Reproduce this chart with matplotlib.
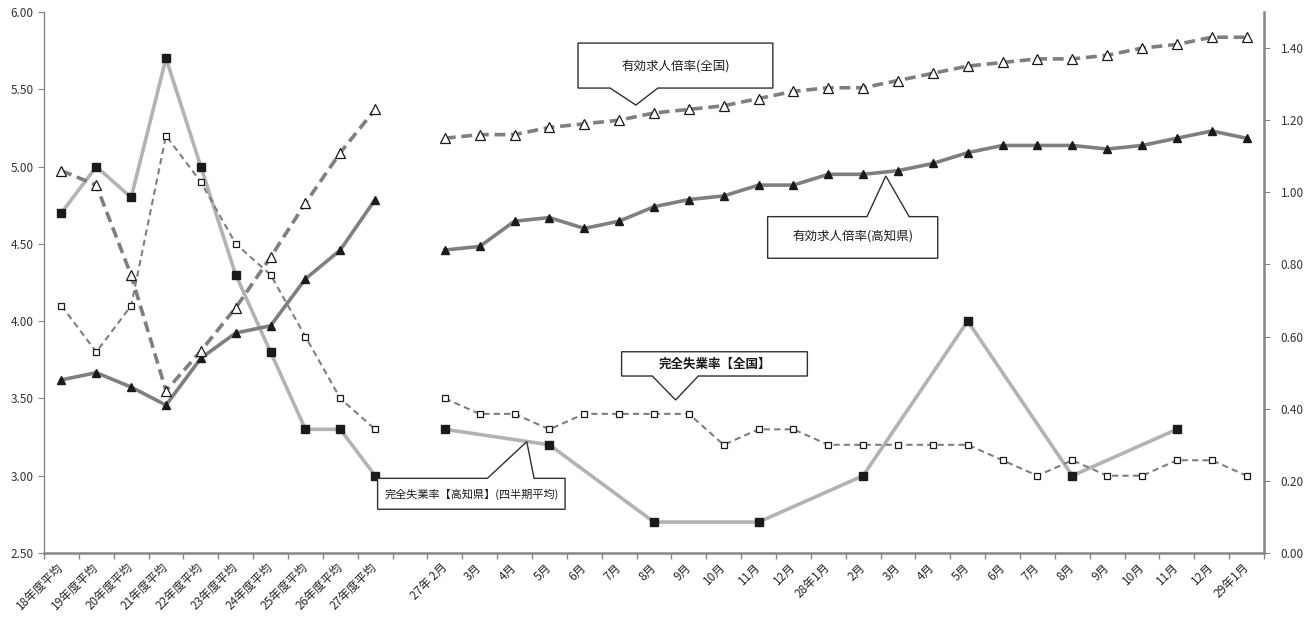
import matplotlib
matplotlib.use('Agg')
import matplotlib.pyplot as plt
from matplotlib.patches import Polygon
import numpy as np

plt.rcParams['font.family'] = ['Noto Sans CJK JP', 'DejaVu Sans']

# カテゴリ(年度平均 + 空き + 月次)
fy_labels = ['18年度平均', '19年度平均', '20年度平均', '21年度平均', '22年度平均',
             '23年度平均', '24年度平均', '25年度平均', '26年度平均', '27年度平均']
month_labels = ['27年 2月', '3月', '4月', '5月', '6月', '7月', '8月', '9月', '10月', '11月', '12月',
                '28年1月', '2月', '3月', '4月', '5月', '6月', '7月', '8月', '9月', '10月', '11月', '12月',
                '29年1月']
categories = fy_labels + [''] + month_labels

# 完全失業率(左軸)
unemp_kochi_fy = [4.7, 5.0, 4.8, 5.7, 5.0, 4.3, 3.8, 3.3, 3.3, 3.0]
unemp_zenkoku_fy = [4.1, 3.8, 4.1, 5.2, 4.9, 4.5, 4.3, 3.9, 3.5, 3.3]
# 高知県は四半期平均(2月,5月,8月,11月)
unemp_kochi_m = [3.3, None, None, 3.2, None, None, 2.7, None, None, 2.7, None, None,
                 3.0, None, None, 4.0, None, None, 3.0, None, None, 3.3, None, None]
unemp_zenkoku_m = [3.5, 3.4, 3.4, 3.3, 3.4, 3.4, 3.4, 3.4, 3.2, 3.3, 3.3, 3.2,
                   3.2, 3.2, 3.2, 3.2, 3.1, 3.0, 3.1, 3.0, 3.0, 3.1, 3.1, 3.0]

# 有効求人倍率(右軸)
jobs_kochi_fy = [0.48, 0.50, 0.46, 0.41, 0.54, 0.61, 0.63, 0.76, 0.84, 0.98]
jobs_zenkoku_fy = [1.06, 1.02, 0.77, 0.45, 0.56, 0.68, 0.82, 0.97, 1.11, 1.23]
jobs_kochi_m = [0.84, 0.85, 0.92, 0.93, 0.90, 0.92, 0.96, 0.98, 0.99, 1.02, 1.02, 1.05,
                1.05, 1.06, 1.08, 1.11, 1.13, 1.13, 1.13, 1.12, 1.13, 1.15, 1.17, 1.15]
jobs_zenkoku_m = [1.15, 1.16, 1.16, 1.18, 1.19, 1.20, 1.22, 1.23, 1.24, 1.26, 1.28, 1.29,
                  1.29, 1.31, 1.33, 1.35, 1.36, 1.37, 1.37, 1.38, 1.40, 1.41, 1.43, 1.43]

n_fy = len(fy_labels)
m_start = n_fy + 1


def plot_part(axis, start, values, **kw):
    # None は飛ばして線をつなぐ
    xs = [start + i for i, v in enumerate(values) if v is not None]
    ys = [v for v in values if v is not None]
    axis.plot(xs, ys, **kw)


fig = plt.figure(figsize=(13.14, 6.19), dpi=100)
ax = fig.add_axes([44 / 1314, 1 - 553 / 619, 1220 / 1314, 541 / 619])
ax2 = ax.twinx()

s_kochi_u = dict(color='#b3b3b3', lw=2.6, marker='s', ms=5.6, mfc='#1a1a1a', mec='#1a1a1a', zorder=3)
s_zen_u = dict(color='#7f7f7f', lw=1.5, dashes=(3, 2), marker='s', ms=5, mfc='white', mec='#1a1a1a',
               mew=0.9, zorder=4)
s_kochi_j = dict(color='#7f7f7f', lw=2.6, marker='^', ms=6.3, mfc='#1a1a1a', mec='#1a1a1a', zorder=3)
s_zen_j = dict(color='#7f7f7f', lw=2.6, dashes=(3, 1.6), marker='^', ms=7, mfc='white', mec='#1a1a1a',
               mew=0.9, zorder=4)

plot_part(ax, 0, unemp_kochi_fy, **s_kochi_u)
plot_part(ax, m_start, unemp_kochi_m, **s_kochi_u)
plot_part(ax, 0, unemp_zenkoku_fy, **s_zen_u)
plot_part(ax, m_start, unemp_zenkoku_m, **s_zen_u)
plot_part(ax2, 0, jobs_kochi_fy, **s_kochi_j)
plot_part(ax2, m_start, jobs_kochi_m, **s_kochi_j)
plot_part(ax2, 0, jobs_zenkoku_fy, **s_zen_j)
plot_part(ax2, m_start, jobs_zenkoku_m, **s_zen_j)

# 軸
n = len(categories)
ax.set_xlim(-0.5, n - 0.5)
ax.set_ylim(2.5, 6.0)
ax2.set_ylim(0, 1.5)
ax.set_yticks(np.arange(2.5, 6.01, 0.5))
ax.set_yticklabels(['%.2f' % v for v in np.arange(2.5, 6.01, 0.5)])
ax2.set_yticks(np.arange(0, 1.41, 0.2))
ax2.set_yticklabels(['%.2f' % v for v in np.arange(0, 1.41, 0.2)])

ax.set_xticks(np.arange(-0.5, n, 1.0))
ax.set_xticklabels([])
ax.set_xticks(np.arange(n), minor=True)
ax.set_xticklabels(categories, minor=True, rotation=45, ha='right', va='center',
                   rotation_mode='anchor', fontsize=8.5, color='#262626')
ax.tick_params(axis='x', which='minor', length=0, pad=9)
ax.tick_params(axis='x', which='major', length=4, color='#868686', width=1)
ax.tick_params(axis='y', length=4, color='#868686', labelsize=8.5, labelcolor='#333333')
ax2.tick_params(axis='y', length=4, color='#868686', labelsize=8.5, labelcolor='#333333', pad=8)

for a in (ax, ax2):
    a.spines['top'].set_visible(False)
    for s in ('left', 'right', 'bottom'):
        a.spines[s].set_color('#868686')
ax.spines['left'].set_linewidth(1.0)
ax2.spines['right'].set_linewidth(1.8)
ax.spines['bottom'].set_linewidth(1.8)
ax2.spines['bottom'].set_visible(False)
ax2.spines['left'].set_visible(False)


def callout(x0, x1, y0, y1, b1, b2, tip, text, down, weight='normal', size=9):
    # y0: 上辺, y1: 下辺 (左軸の値)
    if down:
        pts = [(x0, y0), (x1, y0), (x1, y1), (b2, y1), tip, (b1, y1), (x0, y1)]
    else:
        pts = [(x0, y1), (x0, y0), (b1, y0), tip, (b2, y0), (x1, y0), (x1, y1)]
    poly = Polygon(pts, closed=True, facecolor='white', edgecolor='#303030', lw=1.0,
                   transform=ax.transData, zorder=10)
    ax2.add_patch(poly)
    ax2.text((x0 + x1) / 2, (y0 + y1) / 2, text, transform=ax.transData, ha='center', va='center',
             fontsize=size, color='#1a1a1a', zorder=11, fontweight=weight)


callout(14.82, 20.41, 5.799, 5.508, 15.74, 17.11, (16.48, 5.398), '有効求人倍率(全国)', True)
callout(20.26, 25.14, 4.676, 4.407, 23.11, 24.32, (23.65, 4.939), '有効求人倍率(高知県)', False)
callout(16.07, 21.40, 3.802, 3.645, 16.95, 18.27, (17.62, 3.490), '完全失業率【全国】', True, 'bold')
callout(9.07, 14.45, 2.983, 2.783, 12.22, 13.56, (13.35, 3.220), '完全失業率【高知県】(四半期平均)', False,
        size=8)

fig.savefig('out.png', dpi=100)
